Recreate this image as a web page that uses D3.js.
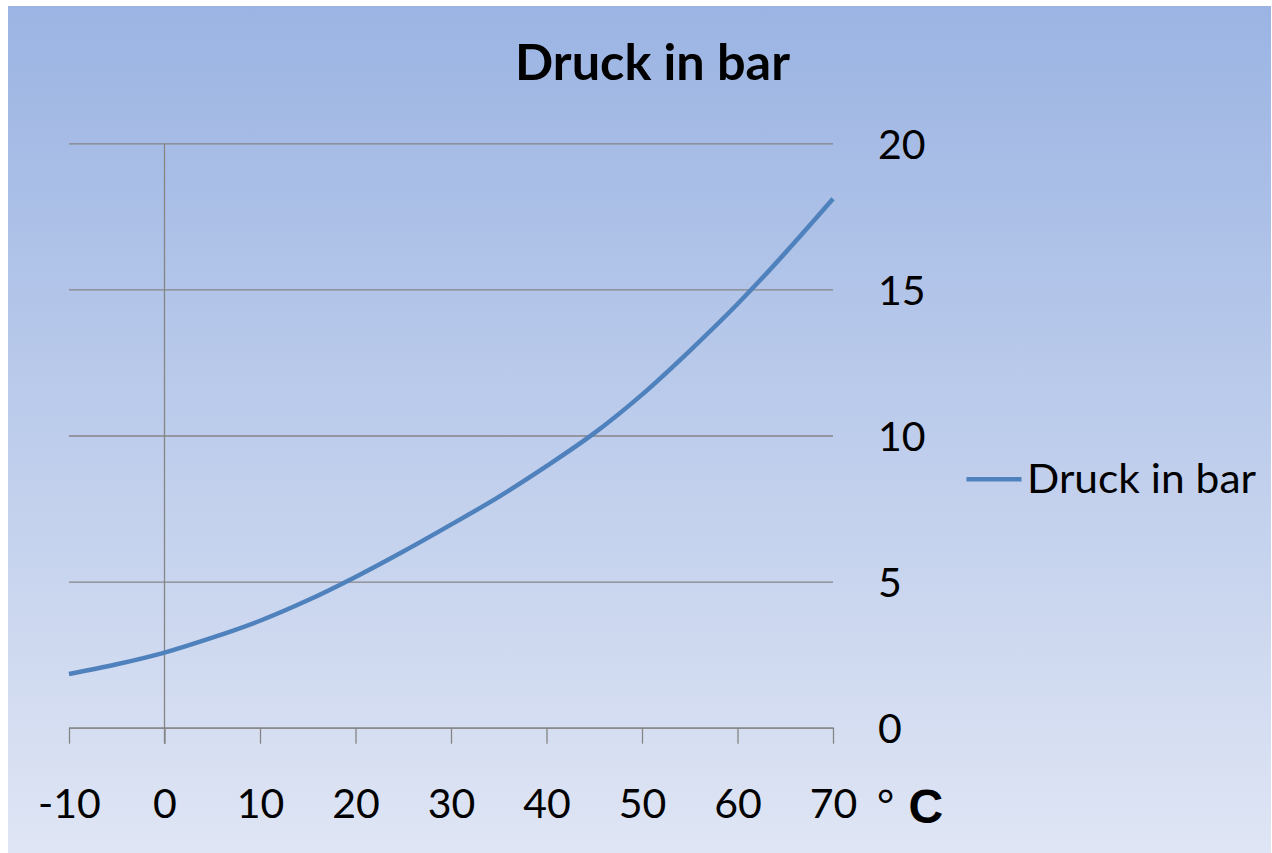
<!DOCTYPE html>
<html>
<head>
<meta charset="utf-8">
<script src="https://cdn.jsdelivr.net/npm/d3@7"></script>
<style>
  body { margin: 0; background: #fff; }
  svg { display: block; }
  text { font-family: Lato, "Noto Sans", sans-serif; fill: #000; }
</style>
</head>
<body>
<svg id="chart" width="1272" height="853"></svg>
<script>
// temperature in °C and pressure in bar
const temps = [-10, -5, 0, 5, 10, 15, 20, 25, 30, 35, 40, 45, 50, 55, 60, 65, 70];
const pressure = [1.84, 2.17, 2.57, 3.08, 3.66, 4.36, 5.16, 6.03, 6.95, 7.9, 8.95, 10.08, 11.4, 12.9, 14.5, 16.25, 18.1];
const xTicks = [-10, 0, 10, 20, 30, 40, 50, 60, 70];
const yTicks = [0, 5, 10, 15, 20];
const seriesName = "Druck in bar";
const chartTitle = "Druck in bar";

const svg = d3.select("#chart");

// background gradient
const defs = svg.append("defs");
const grad = defs.append("linearGradient")
    .attr("id", "bg")
    .attr("x1", 0).attr("y1", 0).attr("x2", 0).attr("y2", 1);
grad.append("stop").attr("offset", "0%").attr("stop-color", "#9bb4e3");
grad.append("stop").attr("offset", "100%").attr("stop-color", "#dfe5f4");

svg.append("rect")
    .attr("x", 8).attr("y", 6)
    .attr("width", 1263).attr("height", 847)
    .attr("fill", "url(#bg)");

const x = d3.scaleLinear().domain([-10, 70]).range([69, 833]);
const y = d3.scaleLinear().domain([0, 20]).range([727.7, 143.3]);

// horizontal gridlines + labels on the right
const yAxis = svg.append("g")
    .attr("transform", `translate(${x(70)},0)`)
    .call(d3.axisRight(y).tickValues(yTicks).tickSize(-(x(70) - x(-10))).tickPadding(45).tickFormat(d => String(d)));
yAxis.select(".domain").remove();
yAxis.selectAll("line").attr("stroke", "#858585").attr("stroke-width", 1.3);
yAxis.selectAll("text")
    .attr("font-size", 41)
    .attr("dy", "0.36em")
    .style("font-family", "Lato, sans-serif");

// vertical line at 0 °C
svg.append("line")
    .attr("x1", x(0)).attr("x2", x(0))
    .attr("y1", y(20)).attr("y2", y(0) + 16)
    .attr("stroke", "#858585").attr("stroke-width", 1.3);

// x axis
const xAxis = svg.append("g")
    .attr("transform", `translate(0,${y(0)})`)
    .call(d3.axisBottom(x).tickValues(xTicks).tickSize(16).tickSizeOuter(0).tickFormat(d => String(d)));
xAxis.select(".domain").attr("stroke", "#858585").attr("stroke-width", 1.3);
xAxis.selectAll("line").attr("stroke", "#858585").attr("stroke-width", 1.3);
xAxis.selectAll("text")
    .attr("font-size", 41)
    .attr("y", 90)
    .attr("dy", 0)
    .style("font-family", "Lato, sans-serif");

// the curve
const line = d3.line()
    .x((d, i) => x(temps[i]))
    .y(d => y(d))
    .curve(d3.curveCatmullRom);

svg.append("path")
    .datum(pressure)
    .attr("d", line)
    .attr("fill", "none")
    .attr("stroke", "#4f81bd")
    .attr("stroke-width", 4.5)
    .attr("stroke-linejoin", "round");

// title
svg.append("text")
    .attr("x", 652.5).attr("y", 79.5)
    .attr("text-anchor", "middle")
    .attr("font-size", 50)
    .attr("font-weight", "bold")
    .attr("textLength", 275)
    .attr("lengthAdjust", "spacingAndGlyphs")
    .text(chartTitle);

// legend
svg.append("line")
    .attr("x1", 966.5).attr("x2", 1021.5)
    .attr("y1", 479.3).attr("y2", 479.3)
    .attr("stroke", "#4f81bd").attr("stroke-width", 4.5);
svg.append("text")
    .attr("x", 1027).attr("y", 493.3)
    .attr("font-size", 41.5)
    .attr("textLength", 229)
    .attr("lengthAdjust", "spacingAndGlyphs")
    .text(seriesName);

// unit label
const unit = svg.append("text")
    .attr("x", 876).attr("y", 822.5)
    .attr("font-size", 48)
    .style("font-family", "'Liberation Sans', Arial, sans-serif");
unit.append("tspan").text("° ");
unit.append("tspan").attr("font-weight", "bold").text("C");
</script>
</body>
</html>
